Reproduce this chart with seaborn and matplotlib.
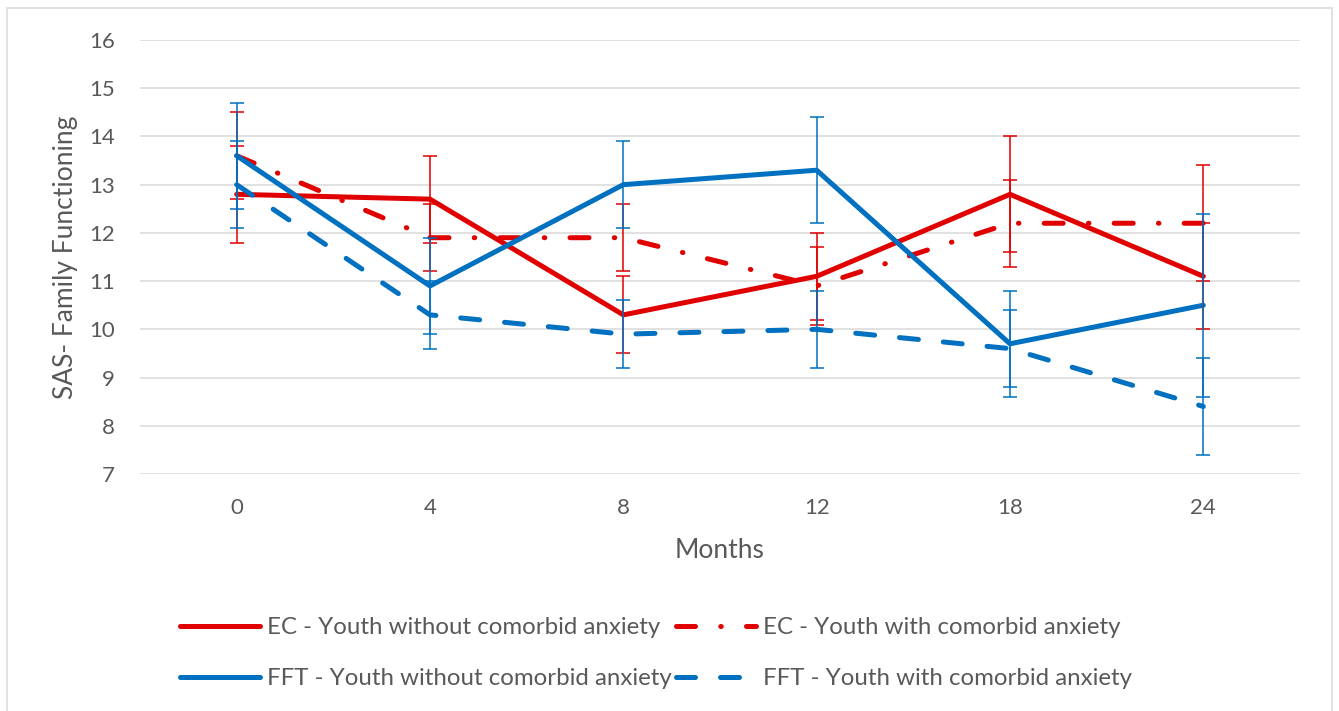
import pandas as pd
import matplotlib.pyplot as plt
from matplotlib.patches import Rectangle
import seaborn as sns

# Months of follow-up (shown as equally spaced categories)
months = ['0', '4', '8', '12', '18', '24']

series_names = [
    'EC - Youth without comorbid anxiety',
    'EC - Youth with comorbid anxiety',
    'FFT - Youth without comorbid anxiety',
    'FFT - Youth with comorbid anxiety',
]

# SAS- Family Functioning means and error bar half-widths
ec_without = [12.8, 12.7, 10.3, 11.1, 12.8, 11.1]
ec_without_err = [1.0, 0.9, 0.8, 0.9, 1.2, 1.1]
ec_with = [13.6, 11.9, 11.9, 10.9, 12.2, 12.2]
ec_with_err = [0.9, 0.7, 0.7, 0.8, 0.9, 1.2]
fft_without = [13.6, 10.9, 13.0, 13.3, 9.7, 10.5]
fft_without_err = [1.1, 1.0, 0.9, 1.1, 1.1, 1.9]
fft_with = [13.0, 10.3, 9.9, 10.0, 9.6, 8.4]
fft_with_err = [0.9, 0.7, 0.7, 0.8, 0.8, 1.0]

values = [ec_without, ec_with, fft_without, fft_with]
errors = [ec_without_err, ec_with_err, fft_without_err, fft_with_err]

red = '#E00000'
blue = '#0070C0'
grey_text = '#595959'
colors = dict(zip(series_names, [red, red, blue, blue]))
dash_map = dict(zip(series_names, ['', (3.8, 5.05, 0.1, 5.05), '', (3.8, 5.0)]))

# long table for seaborn
rows = []
for name, vals in zip(series_names, values):
    for i, v in enumerate(vals):
        rows.append({'pos': i, 'value': v, 'series': name})
df = pd.DataFrame(rows)

sns.set_style('white')
plt.rcParams['font.family'] = ['Lato', 'DejaVu Sans']

fig = plt.figure(figsize=(13.39, 7.11), dpi=100)
ax = fig.add_axes([140 / 1339, 1 - 474 / 711, 1160 / 1339, 434 / 711])

sns.lineplot(data=df, x='pos', y='value', hue='series', style='series',
             hue_order=series_names, style_order=series_names,
             palette=colors, dashes=dash_map, lw=3.6, errorbar=None,
             sort=False, legend=False, ax=ax,
             solid_capstyle='round', dash_capstyle='round',
             solid_joinstyle='round', dash_joinstyle='round')
main_lines = ax.get_lines()[:4]

# error bars on top of the lines
for name, vals, err in zip(series_names, values, errors):
    ax.errorbar(range(len(months)), vals, yerr=err, fmt='none',
                ecolor=colors[name], elinewidth=1.1, capsize=4.7, capthick=1.1)

ax.set_xlim(-0.5, len(months) - 0.5)
ax.set_ylim(7, 16)
ax.set_yticks(range(7, 17))
ax.set_xticks(range(len(months)))
ax.set_xticklabels(months)

ax.yaxis.grid(True, color='#D9D9D9', lw=1.1)
ax.xaxis.grid(False)
ax.set_axisbelow(True)
for s in ax.spines.values():
    s.set_visible(False)

ax.tick_params(axis='both', length=0, colors=grey_text, labelsize=16)
ax.tick_params(axis='y', pad=18)
ax.tick_params(axis='x', pad=17)
ax.set_xlabel('Months', fontsize=19, color=grey_text, labelpad=15)
ax.set_ylabel('SAS- Family Functioning', fontsize=19, color=grey_text, labelpad=8)

# legend: two rows, EC on top, FFT below
order = [0, 2, 1, 3]
fig.legend([main_lines[i] for i in order], [series_names[i] for i in order],
           ncol=2, loc='center', bbox_to_anchor=(656 / 1339, 58 / 711),
           frameon=False, fontsize=17.3, labelcolor=grey_text,
           handlelength=3.3, handletextpad=0.29, columnspacing=0.2,
           labelspacing=1.25, borderpad=0)

# chart area border
fig.add_artist(Rectangle((7 / 1339, -0.02), 1325 / 1339, 703 / 711 + 0.02,
                         transform=fig.transFigure, fill=False,
                         edgecolor='#D9D9D9', lw=1.1))

fig.savefig('out.png', dpi=100)
